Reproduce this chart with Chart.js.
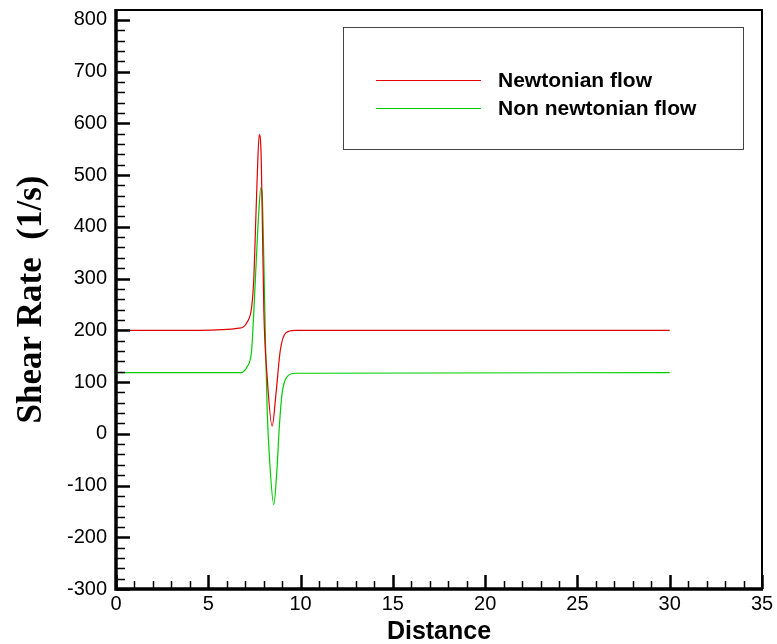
<!DOCTYPE html>
<html>
<head>
<meta charset="utf-8">
<script src="https://cdn.jsdelivr.net/npm/chart.js@4.4.1/dist/chart.umd.min.js"></script>
<style>
  html, body { margin: 0; padding: 0; background: #fff; }
  #wrap { width: 777px; height: 644px; }
</style>
</head>
<body>
<div id="wrap"><canvas id="shear-chart"></canvas></div>
<script>
// Shear rate along the distance
const seriesLabels = ['Newtonian flow', 'Non newtonian flow'];

const distNewt = [0, 4.5, 6.67, 7.11, 7.35, 7.47, 7.56, 7.65, 7.76, 7.85, 7.92, 8.01, 8.19, 8.46, 8.67, 8.9, 9.2, 9.7, 30];
const rateNewt = [200, 200, 204, 216, 245, 302, 399, 495, 578, 553, 431, 238, 110, 15, 78, 161, 195, 200, 200];

const distNonNewt = [0, 6.67, 7.11, 7.35, 7.47, 7.6, 7.74, 7.85, 7.92, 8.01, 8.1, 8.19, 8.32, 8.55, 8.72, 8.85, 9.0, 9.26, 9.7, 30];
const rateNonNewt = [118, 118, 130, 162, 238, 335, 431, 476, 463, 335, 174, 46, -50, -137, -69, 14, 78, 110, 117, 118];

const xTicks = [0, 5, 10, 15, 20, 25, 30, 35];
const yTicks = [-300, -200, -100, 0, 100, 200, 300, 400, 500, 600, 700, 800];
const xMinorStep = 1;
const yMinorStep = 20;

const RED = '#e00000';
const GREEN = '#00cc00';

function toPoints(xs, ys) {
    return xs.map((x, i) => ({ x: x, y: ys[i] }));
}

// inward ticks + frame, drawn from the scales
const frameTicks = {
    id: 'frameTicks',
    afterDraw(chart) {
        const { ctx, chartArea: a, scales } = chart;
        const x = scales.x, y = scales.y;
        ctx.save();
        ctx.strokeStyle = '#000';
        ctx.lineCap = 'butt';

        // x axis ticks (bottom, pointing up)
        for (let v = x.min; v <= x.max + 1e-9; v += xMinorStep) {
            const isMajor = xTicks.includes(Math.round(v * 100) / 100);
            const px = Math.round(x.getPixelForValue(v)) + 0.5;
            ctx.lineWidth = isMajor ? 2.5 : 1.5;
            ctx.beginPath();
            ctx.moveTo(px, a.bottom);
            ctx.lineTo(px, a.bottom - (isMajor ? 14 : 8));
            ctx.stroke();
        }
        // y axis ticks (left, pointing right)
        for (let v = yTicks[0]; v <= yTicks[yTicks.length - 1] + 1e-9; v += yMinorStep) {
            const isMajor = yTicks.includes(v);
            const py = Math.round(y.getPixelForValue(v)) + 0.5;
            ctx.lineWidth = isMajor ? 2.5 : 1.5;
            ctx.beginPath();
            ctx.moveTo(a.left, py);
            ctx.lineTo(a.left + (isMajor ? 14 : 9), py);
            ctx.stroke();
        }

        // frame: heavy left/bottom, lighter top/right
        ctx.lineWidth = 2;
        ctx.beginPath();
        ctx.moveTo(a.left, a.top);
        ctx.lineTo(a.right, a.top);
        ctx.lineTo(a.right, a.bottom);
        ctx.stroke();
        ctx.lineWidth = 3.5;
        ctx.beginPath();
        ctx.moveTo(a.left, a.top - 1);
        ctx.lineTo(a.left, a.bottom);
        ctx.lineTo(a.right + 1, a.bottom);
        ctx.stroke();
        ctx.restore();
    }
};

// boxed legend in the upper right of the plot
const boxLegend = {
    id: 'boxLegend',
    afterDraw(chart) {
        const ctx = chart.ctx;
        const bx = 343, by = 27, bw = 400, bh = 122;
        ctx.save();
        ctx.fillStyle = '#fff';
        ctx.fillRect(bx, by, bw, bh);
        ctx.strokeStyle = '#444';
        ctx.lineWidth = 1;
        ctx.strokeRect(bx + 0.5, by + 0.5, bw, bh);
        ctx.font = 'bold 21px "Liberation Sans", Arial, sans-serif';
        ctx.textBaseline = 'middle';
        ctx.fillStyle = '#000';
        chart.data.datasets.forEach((ds, i) => {
            const ly = 80 + i * 28;
            ctx.strokeStyle = ds.borderColor;
            ctx.lineWidth = 1;
            ctx.beginPath();
            ctx.moveTo(376, ly + 0.5);
            ctx.lineTo(481, ly + 0.5);
            ctx.stroke();
            ctx.fillText(ds.label, 498, ly + 1);
        });
        ctx.restore();
    }
};

new Chart(document.getElementById('shear-chart').getContext('2d'), {
    type: 'line',
    data: {
        datasets: [
            {
                label: seriesLabels[0],
                data: toPoints(distNewt, rateNewt),
                borderColor: RED,
                borderWidth: 1.2,
                pointRadius: 0,
                cubicInterpolationMode: 'monotone',
                fill: false
            },
            {
                label: seriesLabels[1],
                data: toPoints(distNonNewt, rateNonNewt),
                borderColor: GREEN,
                borderWidth: 1.2,
                pointRadius: 0,
                cubicInterpolationMode: 'monotone',
                fill: false
            }
        ]
    },
    options: {
        responsive: true,
        maintainAspectRatio: false,
        animation: false,
        layout: { padding: { top: 10, right: 15, left: 0, bottom: 0 } },
        plugins: {
            legend: { display: false },
            tooltip: { enabled: false }
        },
        scales: {
            x: {
                type: 'linear',
                min: 0,
                max: 35,
                afterBuildTicks: s => { s.ticks = xTicks.map(v => ({ value: v })); },
                afterFit: s => { s.height = 55; s.paddingLeft = 0; s.paddingRight = 0; },
                grid: { display: false, drawTicks: false },
                border: { display: false },
                ticks: {
                    color: '#000',
                    padding: 3,
                    maxRotation: 0,
                    font: { family: '"Liberation Sans", Arial, sans-serif', size: 20 }
                },
                title: {
                    display: true,
                    text: 'Distance',
                    color: '#000',
                    padding: { top: 0, bottom: -3 },
                    font: { family: '"Liberation Sans", Arial, sans-serif', size: 25, weight: 'bold' }
                }
            },
            y: {
                type: 'linear',
                min: -300,
                max: 819,
                afterBuildTicks: s => { s.ticks = yTicks.map(v => ({ value: v })); },
                afterFit: s => { s.width = 116; s.paddingTop = 0; s.paddingBottom = 0; },
                grid: { display: false, drawTicks: false },
                border: { display: false },
                ticks: {
                    color: '#000',
                    padding: 9,
                    font: { family: '"Liberation Sans", Arial, sans-serif', size: 20 }
                },
                title: {
                    display: true,
                    text: 'Shear Rate  (1/s)',
                    color: '#000',
                    padding: { top: 11, bottom: 0 },
                    font: { family: '"Liberation Serif", "Times New Roman", serif', size: 35, weight: 'bold' }
                }
            }
        }
    },
    plugins: [frameTicks, boxLegend]
});
</script>
</body>
</html>
